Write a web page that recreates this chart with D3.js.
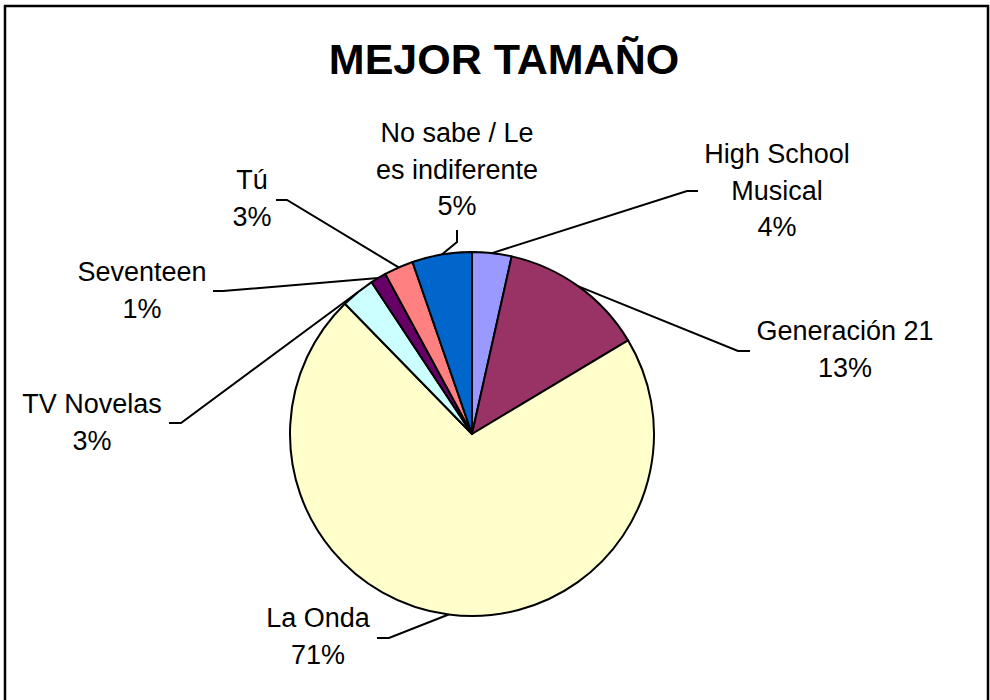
<!DOCTYPE html>
<html>
<head>
<meta charset="utf-8">
<script src="https://cdn.jsdelivr.net/npm/d3@7"></script>
<style>
  html, body { margin: 0; padding: 0; background: #fff; }
  svg { display: block; }
</style>
</head>
<body>
<div id="chart"></div>
<script>
// slices, clockwise from 12 o'clock
const categories = ['High School Musical', 'Generación 21', 'La Onda', 'TV Novelas', 'Seventeen', 'Tú', 'No sabe / Le es indiferente'];
const values = [3.5, 12.9, 71.3, 3.0, 1.4, 2.6, 5.3];
const labelLines = [
  ['High School', 'Musical'],
  ['Generación 21'],
  ['La Onda'],
  ['TV Novelas'],
  ['Seventeen'],
  ['Tú'],
  ['No sabe / Le', 'es indiferente']
];
const colors = ['#9999FF', '#993366', '#FFFFCC', '#CCFFFF', '#660066', '#FF8080', '#0066CC'];
const title = 'MEJOR TAMAÑO';

// hand placed label boxes, like the original
const labelPos = [
  { x: 777, y: 163, ex: 687, ey: 191, hx: 698, hy: 191 },
  { x: 845, y: 340, ex: 738, ey: 351, hx: 750, hy: 351 },
  { x: 318, y: 627, ex: 389, ey: 638, hx: 377, hy: 638 },
  { x: 92, y: 413, ex: 181, ey: 423, hx: 169, hy: 423 },
  { x: 142, y: 281, ex: 223, ey: 291, hx: 213, hy: 291 },
  { x: 252, y: 189, ex: 287, ey: 200, hx: 276, hy: 200 },
  { x: 457, y: 142, ex: 457, ey: 242, hx: 457, hy: 230 }
];

const width = 990, height = 700;
const cx = 472, cy = 434, radius = 182;
const lineH = 36.6;

const svg = d3.select('#chart').append('svg')
  .attr('width', width)
  .attr('height', height);

// frame
svg.append('rect')
  .attr('x', 5).attr('y', 6)
  .attr('width', 983).attr('height', 720)
  .attr('fill', 'none')
  .attr('stroke', '#000')
  .attr('stroke-width', 2.5);

svg.append('text')
  .attr('x', 504).attr('y', 74)
  .attr('text-anchor', 'middle')
  .style('font-family', 'Liberation Sans, Arial, sans-serif')
  .style('font-weight', 'bold')
  .style('font-size', '43px')
  .text(title);

const data = categories.map((c, i) => ({ name: c, value: values[i], i: i }));

const pie = d3.pie().sort(null).value(d => d.value);
const arcs = pie(data);

const arc = d3.arc().innerRadius(0).outerRadius(radius);

const g = svg.append('g').attr('transform', `translate(${cx},${cy})`);

g.selectAll('path.slice')
  .data(arcs)
  .enter().append('path')
  .attr('class', 'slice')
  .attr('d', arc)
  .attr('fill', d => colors[d.data.i])
  .attr('stroke', '#000')
  .attr('stroke-width', 2)
  .attr('stroke-linejoin', 'round');

// leader lines: rim point from the slice's mid angle
arcs.forEach((d, i) => {
  const mid = (d.startAngle + d.endAngle) / 2;
  const px = cx + Math.sin(mid) * radius;
  const py = cy - Math.cos(mid) * radius;
  const p = labelPos[i];
  svg.append('polyline')
    .attr('points', `${px},${py} ${p.ex},${p.ey} ${p.hx},${p.hy}`)
    .attr('fill', 'none')
    .attr('stroke', '#000')
    .attr('stroke-width', 2);
});

// labels
arcs.forEach((d, i) => {
  const p = labelPos[i];
  const lines = labelLines[i].concat([Math.round(d.data.value) + '%']);
  const t = svg.append('text')
    .attr('text-anchor', 'middle')
    .style('font-family', 'Liberation Sans, Arial, sans-serif')
    .style('font-size', '27px')
    .attr('fill', '#000');
  lines.forEach((s, k) => {
    t.append('tspan').attr('x', p.x).attr('y', p.y + k * lineH).text(s);
  });
});
</script>
</body>
</html>
